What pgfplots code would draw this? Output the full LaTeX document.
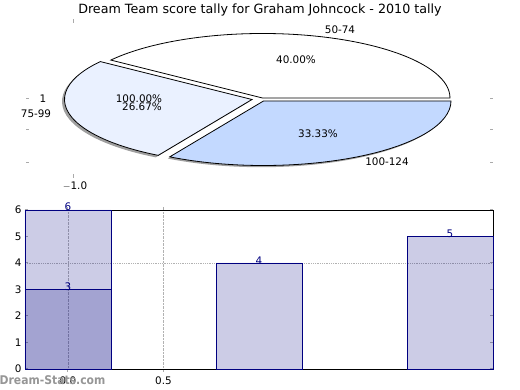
\documentclass[border=0pt]{standalone}
\usepackage{pgfplots}
\pgfplotsset{compat=1.18}
\usepackage{pgfplotstable}
\usepackage{fontspec}
\setmainfont{DejaVu Sans}
\newfontfamily\wmfont{DejaVu Sans Condensed}
\definecolor{navyc}{RGB}{0,0,128}
\definecolor{slicelight}{RGB}{234,241,255}
\definecolor{sliceblue}{RGB}{195,217,255}
\definecolor{wm}{RGB}{150,150,150}
\definecolor{tk}{RGB}{170,170,170}

% bar data: position, count
\pgfplotstableread{
x y
0 6
1 4
2 5
}\bars
\pgfplotstableread{
x y
0 3
}\barsb

\begin{document}
\begin{tikzpicture}
\useasboundingbox (0,0) rectangle (520pt,390pt);
% ---------- pie panel (pixel-unit hidden axis) ----------
\begin{axis}[at={(0pt,0pt)}, anchor=south west, scale only axis,
  width=520pt, height=390pt, xmin=0, xmax=520, ymin=0, ymax=390,
  hide axis, clip=false]
% pie shares: 50-74 = 6 (40%), 75-99 = 4 (26.67%), 100-124 = 5 (33.33%)
% angles: 0-144, 144-240, 240-360
% shadows
\fill[gray!75] (axis cs:249.5,288.5) -- ++({187.5pt*cos(144)},{64.5pt*sin(144)}) arc[start angle=144,end angle=240,x radius=187.5pt,y radius=64.5pt] -- cycle;
\fill[gray!75] (axis cs:261.5,287.3) -- ++({187.5pt*cos(240)},{64.5pt*sin(240)}) arc[start angle=240,end angle=358,x radius=187.5pt,y radius=64.5pt] -- cycle;
% slices
\filldraw[fill=white, draw=black, line width=0.8pt] (axis cs:262.5,292) -- ++({187.5pt*cos(0)},{64.5pt*sin(0)}) arc[start angle=0,end angle=144,x radius=187.5pt,y radius=64.5pt] -- cycle;
\filldraw[fill=slicelight, draw=black, line width=0.8pt] (axis cs:252,290.5) -- ++({187.5pt*cos(144)},{64.5pt*sin(144)}) arc[start angle=144,end angle=240,x radius=187.5pt,y radius=64.5pt] -- cycle;
\filldraw[fill=sliceblue, draw=black, line width=0.8pt] (axis cs:263.5,289) -- ++({187.5pt*cos(240)},{64.5pt*sin(240)}) arc[start angle=240,end angle=360,x radius=187.5pt,y radius=64.5pt] -- cycle;
% labels
\node[font=\fontsize{10.4}{12}\selectfont] at (axis cs:340,360) {50-74};
\node[font=\fontsize{10.4}{12}\selectfont] at (axis cs:296,330) {40.00\%};
\node[font=\fontsize{10.4}{12}\selectfont] at (axis cs:43,291) {1};
\node[font=\fontsize{10.4}{12}\selectfont] at (axis cs:139,291) {100.00\%};
\node[font=\fontsize{10.4}{12}\selectfont] at (axis cs:36,276) {75-99};
\node[font=\fontsize{10.4}{12}\selectfont] at (axis cs:142,283) {26.67\%};
\node[font=\fontsize{10.4}{12}\selectfont] at (axis cs:318,256) {33.33\%};
\node[font=\fontsize{10.4}{12}\selectfont] at (axis cs:387,228) {100-124};
\node[font=\fontsize{10.4}{12}\selectfont] at (axis cs:75,204) {$-$1.0};
\node[font=\fontsize{12.7}{14}\selectfont] at (axis cs:260,380) {Dream Team score tally for Graham Johncock - 2010 tally};
% stray tick marks of the pie axes
\draw[tk, line width=1pt] (axis cs:73,367) -- (axis cs:73,371);
\draw[tk, line width=1pt] (axis cs:73,212) -- (axis cs:73,216);
\draw[tk, line width=1pt] (axis cs:26,291) -- (axis cs:29,291);
\draw[tk, line width=1pt] (axis cs:26,260) -- (axis cs:29,260);
\draw[tk, line width=1pt] (axis cs:26,227) -- (axis cs:29,227);
\draw[tk, line width=1pt] (axis cs:490,291) -- (axis cs:493,291);
\draw[tk, line width=1pt] (axis cs:490,260) -- (axis cs:493,260);
\draw[tk, line width=1pt] (axis cs:490,227) -- (axis cs:493,227);
\end{axis}
% ---------- bar panel ----------
\begin{axis}[at={(25pt,21pt)}, anchor=south west, scale only axis,
  width=468pt, height=159pt,
  xmin=-0.225, xmax=2.225, ymin=0, ymax=6,
  xtick={0,0.5}, xticklabels={0.0,0.5},
  ytick={0,1,2,3,4,5,6},
  /pgf/number format/assume math mode=true,
  xmajorgrids, major grid style={densely dotted, gray!60, line width=0.8pt},
  tick align=inside, major tick length=3pt,
  tick style={tk, line width=1pt},
  xtick pos=both, ytick pos=both,
  axis line style={black, line width=0.8pt},
  ticklabel style={font=\fontsize{10.4}{12}\selectfont},
  xticklabel style={yshift=-1pt},
  yticklabel style={xshift=0pt},
  ybar, bar width=0.45, bar shift=0pt,
  nodes near coords,
  every node near coord/.append style={text=navyc, fill opacity=1, text opacity=1, font=\fontsize{10.4}{12}\selectfont, inner sep=0pt, anchor=south, yshift=-1.5pt},
  clip=false]
\draw[densely dotted, gray!60, line width=0.8pt] (axis cs:-0.225,4) -- (axis cs:2.225,4);
\addplot[fill=navyc, fill opacity=0.2, draw=navyc, line width=0.8pt] table[x=x,y=y] {\bars};
\addplot[fill=navyc, fill opacity=0.2, draw=navyc, line width=0.8pt] table[x=x,y=y] {\barsb};
\end{axis}
\node[anchor=west, text=wm, font=\wmfont\bfseries\fontsize{12}{13}\selectfont, inner sep=0pt] at (-0.5pt,10pt) {Dream-Stats.com};
\end{tikzpicture}
\end{document}
